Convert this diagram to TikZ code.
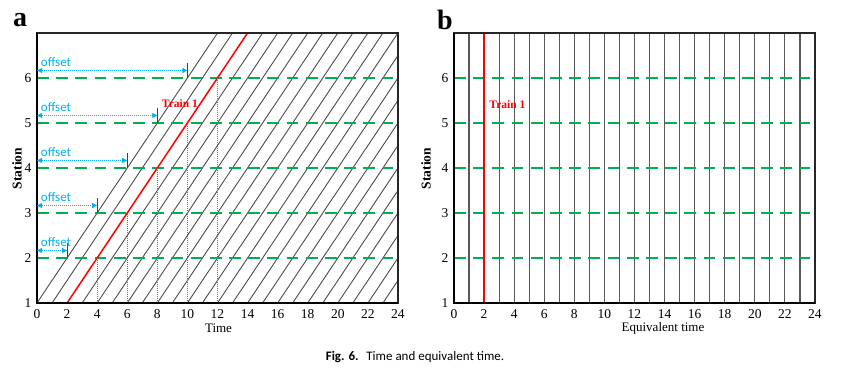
\documentclass[tikz,border=0pt]{standalone}
\usepackage{fontspec}
\setmainfont{Liberation Serif}
\newfontfamily\capfont{Carlito}
\usetikzlibrary{arrows.meta}
\definecolor{grn}{RGB}{0,176,80}
\definecolor{cyanb}{RGB}{0,176,240}
\definecolor{trainred}{RGB}{255,0,0}
\tikzset{
  diag/.style={black!70, line width=0.9pt},
  vline/.style={black!65, line width=1.2pt},
  train/.style={trainred, line width=1.5pt},
  stationline/.style={grn, line width=2pt, dash pattern=on 11.7pt off 7.5pt},
  guide/.style={black!55, line width=0.8pt, dash pattern=on 1pt off 1pt},
  offarrow/.style={cyanb, line width=0.8pt, dash pattern=on 1pt off 1pt,
    {Triangle[length=5pt,width=5pt]}-{Triangle[length=5pt,width=5pt]}},
  offtick/.style={black!75, line width=1pt},
  offtext/.style={cyanb, font=\capfont\fontsize{13}{15}\selectfont, inner sep=0pt, anchor=base west},
  ticklab/.style={font=\fontsize{13.5}{15}\selectfont, inner sep=0pt},
  axtitle/.style={font=\fontsize{13}{15}\selectfont, inner sep=0pt},
  sttitle/.style={font=\bfseries\fontsize{13.5}{15}\selectfont, inner sep=0pt, rotate=90},
  trainlab/.style={trainred, font=\bfseries\fontsize{11.5}{13}\selectfont, inner sep=0pt},
  panellab/.style={font=\bfseries\fontsize{28}{30}\selectfont, inner sep=0pt},
  framebox/.style={black!85, line width=1.3pt},
  axisline/.style={black, line width=2pt},
}
\begin{document}
\begin{tikzpicture}[x=1pt,y=1pt]
\useasboundingbox (0,0) rectangle (846,369);

% ---------------- panel a ----------------
\begin{scope}[shift={(37pt,21pt)}, x=15.04pt, y=45pt]
  \begin{scope}
    \clip (0,1) rectangle (24,7);
    \foreach \k in {0,1,3,4,5,6,7,8,9,10,11,12,13,14,15,16,17,18,19,20,21,22,23}
      \draw[diag] (\k,1) -- ++(12,6);
  \end{scope}
  \foreach \s in {2,...,6}
    \draw[stationline] (0,\s) -- (23.7,\s);
  \draw[train] (2,1) -- (14,7);
  \foreach \s in {2,...,6}
    \draw[guide] ({2*\s},1) -- ({2*\s},\s);
  \draw[framebox] (0,1) rectangle (24,7);
  \draw[axisline] (0,7) -- (0,1) -- (24,1);
  \foreach \s in {2,...,6} {
    \draw[offtick] ({2*(\s-1)},\s) -- ++(0,0.333);
    \draw[offarrow] (0,\s+0.167) -- ({2*(\s-1)},\s+0.167);
    \node[offtext] (off\s) at (0.25,\s+0.255) {offset};
  }
  \foreach \t in {0,2,...,24}
    \node[ticklab, anchor=north, yshift=-6.5pt] (xa\t) at (\t,1) {\t};
  \foreach \s in {1,...,6}
    \node[ticklab, anchor=east, xshift=-5.5pt] (ya\s) at (0,\s) {\s};
  \node[trainlab] (traina) at (9.5,5.44) {Train 1};
\end{scope}

% ---------------- panel b ----------------
\begin{scope}[shift={(454pt,21pt)}, x=15.04pt, y=45pt]
  \foreach \k in {1,3,4,5,6,7,8,9,10,11,12,13,14,15,16,17,18,19,20,21,22,23}
    \draw[vline] (\k,1) -- (\k,7);
  \foreach \s in {2,...,6}
    \draw[stationline] (0,\s) -- (23.7,\s);
  \draw[train] (2,1) -- (2,7);
  \draw[framebox] (0,1) rectangle (24,7);
  \draw[axisline] (0,7) -- (0,1) -- (24,1);
  \foreach \t in {0,2,...,24}
    \node[ticklab, anchor=north, yshift=-6.5pt] (xb\t) at (\t,1) {\t};
  \foreach \s in {1,...,6}
    \node[ticklab, anchor=east, xshift=-5.5pt] (yb\s) at (0,\s) {\s};
  \node[trainlab] (trainb) at (3.55,5.42) {Train 1};
\end{scope}

% ---------------- titles ----------------
\node[panellab] (pa) at (20,349) {a};
\node[panellab] (pb) at (445,349) {b};
\node[sttitle] (sta) at (17,200.5) {Station};
\node[sttitle] (stb) at (426,200.5) {Station};
\node[axtitle] (ta) at (218.5,41) {Time};
\node[axtitle] (tb) at (663,41) {Equivalent time};
\node[inner sep=0pt, font=\capfont\fontsize{13}{15}\selectfont] (cap) at (415,12)
  {\textbf{Fig. 6.}\hspace{0.6em}Time and equivalent time.};
\end{tikzpicture}
\end{document}
